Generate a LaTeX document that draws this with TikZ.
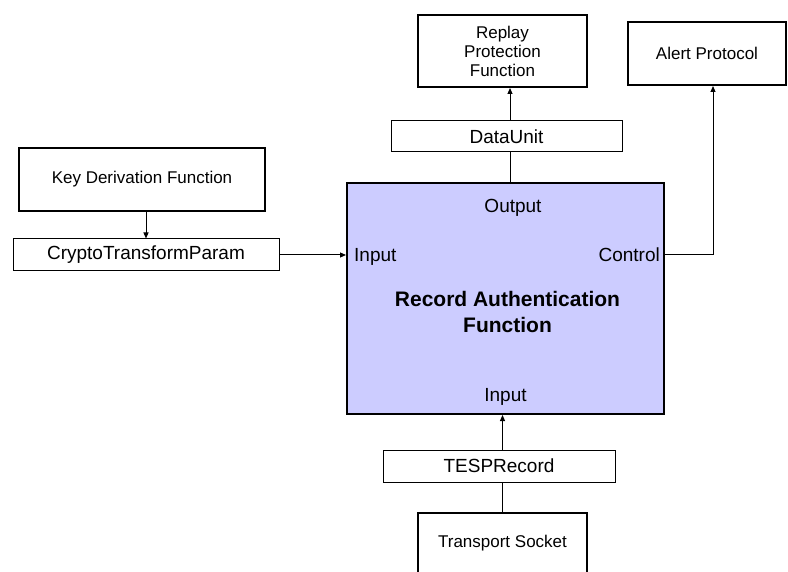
\documentclass[tikz,border=0pt]{standalone}
\usepackage{fontspec}
\setmainfont{Liberation Sans}
\usetikzlibrary{arrows.meta}
\definecolor{rafill}{HTML}{CCCCFF}
\begin{document}
\begin{tikzpicture}[x=1pt,y=-1pt,
  fbox/.style={draw, line width=2pt, fill=white, inner sep=0pt, align=center,
               font=\fontsize{17}{19}\selectfont},
  dbox/.style={draw, line width=1pt, fill=white, inner sep=0pt,
               font=\fontsize{19}{22}\selectfont},
  lbl/.style={inner sep=0pt, font=\fontsize{19}{22}\selectfont},
  link/.style={line width=1pt},
  arr/.style={link, -{Triangle[length=6pt,width=5pt]}}
]
\clip (0,0) rectangle (788,572);

% functional blocks
\node[fbox, minimum width=246pt, minimum height=63pt] (kdf) at (142,179.5) {Key Derivation Function};
\node[fbox, minimum width=169pt, minimum height=72pt] (replay) at (502.5,51) {Replay\\Protection\\Function};
\node[fbox, minimum width=158pt, minimum height=63pt] (alert) at (707,53.5) {Alert Protocol};
\node[fbox, minimum width=169pt, minimum height=60pt] (ts) at (502.5,543) {Transport Socket};

% data items
\node[dbox, minimum width=266pt, minimum height=32pt] (ctp) at (146,255) {CryptoTransformParam};
\node[dbox, minimum width=231pt, minimum height=31pt] (du) at (506.5,136.5) {DataUnit};
\node[dbox, minimum width=232pt, minimum height=32pt] (tesp) at (499,466) {TESPRecord};

% central function
\node[draw, line width=2pt, fill=rafill, minimum width=317pt, minimum height=231pt] (main) at (505.5,298.5) {};
\node[lbl, anchor=base] (out) at (513,213) {Output};
\node[lbl, anchor=base west] (inl) at (354,262) {Input};
\node[lbl, anchor=base east] (ctl) at (660,262) {Control};
\node[lbl, anchor=base] (inb) at (505.5,402) {Input};
\node[inner sep=0pt, anchor=north, align=center, font=\fontsize{21}{26}\selectfont\bfseries] (title)
  at (507.5,290.7) {Record Authentication\\Function};

% connectors
\draw[arr] (ctp.north |- kdf.south) -- (ctp.north);
\draw[arr] (ctp.east) -- (ctp.east -| main.west);
\draw[link] ([xshift=4.5pt]main.north) -- ([xshift=4.5pt]main.north |- du.south);
\draw[arr] ([xshift=4.5pt]main.north |- du.north) -- ([xshift=4.5pt]main.north |- replay.south);
\draw[arr] (ctp.east -| main.east) -| ([xshift=6pt]alert.south);
\draw[link] (ts.north) -- (ts.north |- tesp.south);
\draw[arr] (ts.north |- tesp.north) -- (ts.north |- main.south);
\end{tikzpicture}
\end{document}
